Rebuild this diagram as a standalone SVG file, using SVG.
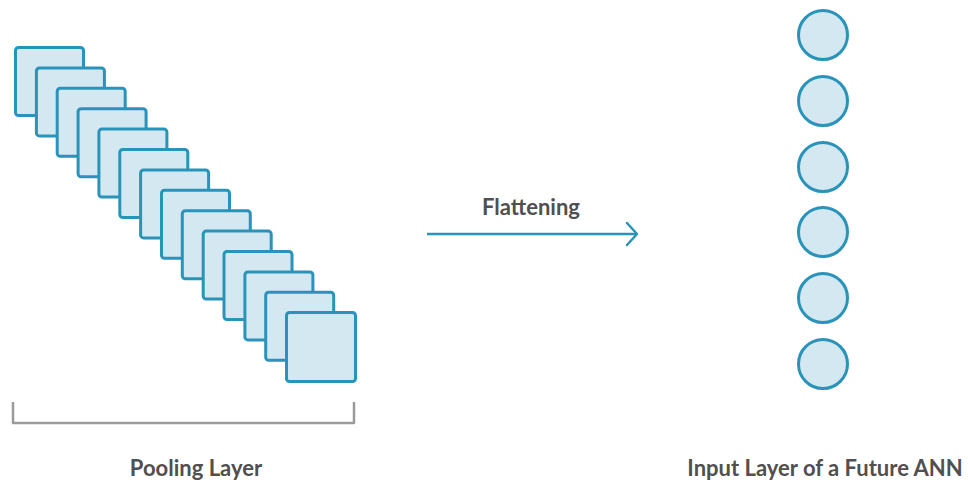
<svg xmlns="http://www.w3.org/2000/svg" width="968" height="483" viewBox="0 0 968 483">
<style>
.sq{fill:#d4e8f1;stroke:#2a93ba;stroke-width:3}
.nd{fill:#d4e8f1;stroke:#2a93ba;stroke-width:3}
.lbl{font-family:Lato,"Open Sans",sans-serif;font-size:22px;font-weight:bold;fill:#505050}
</style>
<defs>
<marker id="ah" markerWidth="14" markerHeight="26" refX="12" refY="13" orient="auto" markerUnits="userSpaceOnUse">
<path d="M2,2 L12,13 L2,24" fill="none" stroke="#2a93ba" stroke-width="2.5" stroke-linecap="round" stroke-linejoin="round"/>
</marker>
</defs>
<rect width="968" height="483" fill="#fff"/>
<g id="pooling-layer">
<rect class="sq" x="15.5" y="47.5" width="68" height="68" rx="3"/>
<rect class="sq" x="36.4" y="67.9" width="68" height="68" rx="3"/>
<rect class="sq" x="57.2" y="88.3" width="68" height="68" rx="3"/>
<rect class="sq" x="78.1" y="108.7" width="68" height="68" rx="3"/>
<rect class="sq" x="98.9" y="129.1" width="68" height="68" rx="3"/>
<rect class="sq" x="119.8" y="149.5" width="68" height="68" rx="3"/>
<rect class="sq" x="140.6" y="169.9" width="68" height="68" rx="3"/>
<rect class="sq" x="161.5" y="190.3" width="68" height="68" rx="3"/>
<rect class="sq" x="182.3" y="210.7" width="68" height="68" rx="3"/>
<rect class="sq" x="203.2" y="231.1" width="68" height="68" rx="3"/>
<rect class="sq" x="224.0" y="251.5" width="68" height="68" rx="3"/>
<rect class="sq" x="244.9" y="271.9" width="68" height="68" rx="3"/>
<rect class="sq" x="265.7" y="292.3" width="68" height="68" rx="3"/>
<rect class="sq" x="286.5" y="312.5" width="69" height="69" rx="3"/>
</g>
<g id="bracket">
<path d="M13,402 V423 H354 V402" fill="none" stroke="#9a9a9a" stroke-width="2.5" stroke-linejoin="round"/>
</g>
<g id="pooling-label">
<text class="lbl" x="196" y="476" text-anchor="middle">Pooling Layer</text>
</g>
<g id="connectors">
<line x1="427" y1="234" x2="637" y2="234" stroke="#2a93ba" stroke-width="2.5" marker-end="url(#ah)"/>
<text class="lbl" x="531" y="215" text-anchor="middle">Flattening</text>
</g>
<g id="input-layer">
<circle class="nd" cx="823" cy="35" r="24.5"/>
<circle class="nd" cx="823" cy="101" r="24.5"/>
<circle class="nd" cx="823" cy="167" r="24.5"/>
<circle class="nd" cx="823" cy="232" r="24.5"/>
<circle class="nd" cx="823" cy="298" r="24.5"/>
<circle class="nd" cx="823" cy="364" r="24.5"/>
</g>
<g id="input-label">
<text class="lbl" x="825" y="476" text-anchor="middle">Input Layer of a Future ANN</text>
</g>
</svg>
